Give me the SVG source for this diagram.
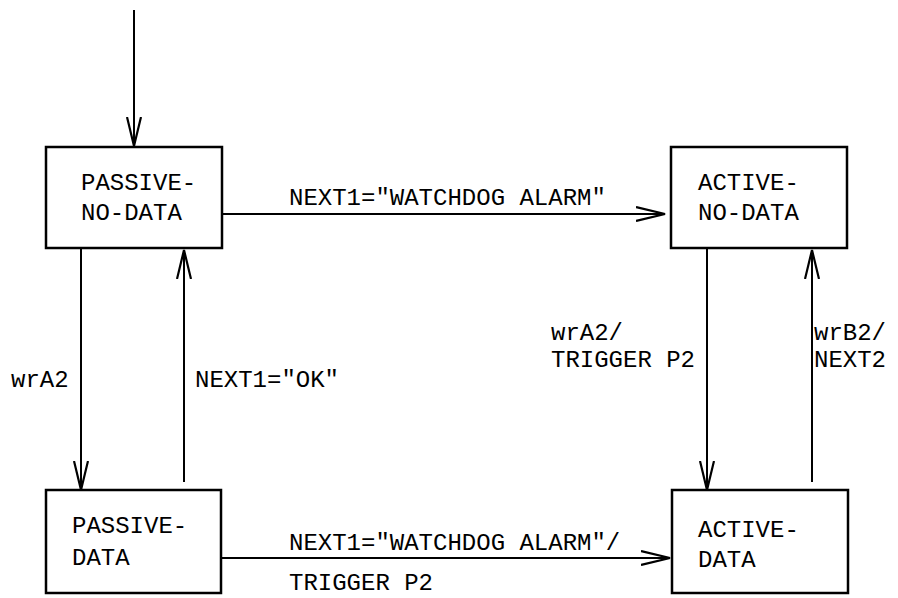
<svg xmlns="http://www.w3.org/2000/svg" width="898" height="598" viewBox="0 0 898 598">
<style>
.box{fill:#fff;stroke:#000;stroke-width:2.5}
.ln{fill:none;stroke:#000;stroke-width:2}
text{font-family:"Liberation Mono","DejaVu Sans Mono",monospace;font-size:24px;fill:#000}
</style>
<defs>
<marker id="ah" viewBox="0 0 30 16" refX="29" refY="8" markerWidth="30" markerHeight="16" markerUnits="userSpaceOnUse" orient="auto">
<path d="M0,1 L29,8 L0,15" fill="none" stroke="#000" stroke-width="2.2"/>
</marker>
</defs>
<g id="connectors">
<line class="ln" x1="134" y1="10" x2="134" y2="146" marker-end="url(#ah)"/>
<line class="ln" x1="222" y1="214" x2="665" y2="214" marker-end="url(#ah)"/>
<text x="289" y="205">NEXT1="WATCHDOG ALARM"</text>
<line class="ln" x1="81" y1="249" x2="81" y2="490" marker-end="url(#ah)"/>
<text x="11" y="387">wrA2</text>
<line class="ln" x1="184" y1="482" x2="184" y2="250" marker-end="url(#ah)"/>
<text x="195" y="387">NEXT1="OK"</text>
<line class="ln" x1="221" y1="558" x2="670" y2="558" marker-end="url(#ah)"/>
<text x="289" y="550">NEXT1="WATCHDOG ALARM"/</text>
<text x="289" y="590">TRIGGER P2</text>
<line class="ln" x1="707" y1="249" x2="707" y2="490" marker-end="url(#ah)"/>
<text x="551" y="340">wrA2/</text>
<text x="551" y="367">TRIGGER P2</text>
<line class="ln" x1="812" y1="482" x2="812" y2="250" marker-end="url(#ah)"/>
<text x="814" y="340">wrB2/</text>
<text x="814" y="367">NEXT2</text>
</g>
<g id="passive-no-data">
<rect class="box" x="46" y="147" width="176" height="101"/>
<text x="81" y="190">PASSIVE-</text>
<text x="81" y="220">NO-DATA</text>
</g>
<g id="active-no-data">
<rect class="box" x="671" y="147" width="176" height="101"/>
<text x="698" y="190">ACTIVE-</text>
<text x="698" y="220">NO-DATA</text>
</g>
<g id="passive-data">
<rect class="box" x="46" y="490" width="175" height="103"/>
<text x="72" y="533">PASSIVE-</text>
<text x="72" y="565">DATA</text>
</g>
<g id="active-data">
<rect class="box" x="672" y="490" width="176" height="103"/>
<text x="698" y="537">ACTIVE-</text>
<text x="698" y="567">DATA</text>
</g>
</svg>
